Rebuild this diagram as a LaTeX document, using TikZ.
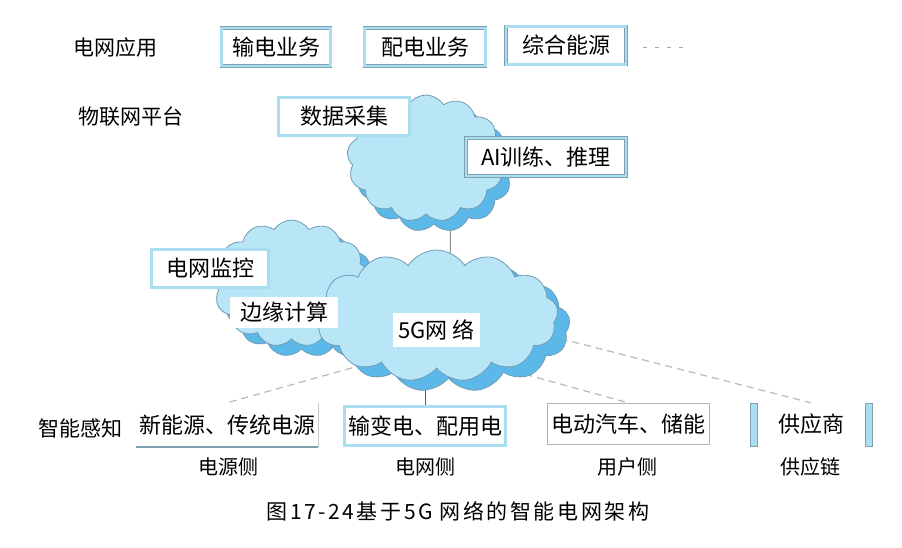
\documentclass[tikz,border=0pt]{standalone}
\usepackage{fontspec}
\setmainfont{Noto Sans CJK SC}
\usetikzlibrary{shapes.symbols,calc,backgrounds}
\definecolor{cloudFill}{HTML}{B8E6F6}
\definecolor{cloudShade}{HTML}{5CB8E9}
\definecolor{cloudEdge}{HTML}{6F9CB4}
\definecolor{boxBand}{HTML}{A9DEF1}
\definecolor{boxEdge}{HTML}{7E9FAE}
\tikzset{
  puff/.style={cloud, cloud puffs=13, cloud puff arc=115, inner sep=0pt, draw=cloudEdge, line width=0.8pt},
  puffTop/.style={puff, fill=cloudFill},
  puffShade/.style={puff, fill=cloudShade},
  layer/.style={font=\fontsize{21}{24}\selectfont},
  side/.style={font=\fontsize{20}{24}\selectfont},
  appbox/.style={draw=boxEdge, double=boxBand, double distance=2.4pt, fill=white, font=\fontsize{22}{24}\selectfont, minimum height=38, inner sep=0pt},
  tag/.style={fill=white, font=\fontsize{22}{24}\selectfont, inner sep=0pt},
  link/.style={draw=gray!70!black, line width=0.8pt},
  feed/.style={draw=gray!55, line width=1.2pt, dash pattern=on 7pt off 5pt},
}

\begin{document}
\begin{tikzpicture}[x=1pt,y=-1pt]
\useasboundingbox (0,0) rectangle (902,548);
% layer labels
\node[layer] (appLbl) at (115,48) {电网应用};
\node[layer] (iotLbl) at (131,117) {物联网平台};
\node[layer] (senseLbl) at (80,428) {智能感知};
% application boxes
\node[appbox, minimum width=109] (trans) at (276,47) {输电业务};
\node[appbox, minimum width=121] (distr) at (425,47) {配电业务};
\node[appbox, minimum width=120] (mix) at (566,45.5) {综合能源};
\coordinate (more) at (643,47);
\draw[gray!70, line width=0.8pt, dash pattern=on 4pt off 8pt] (more) -- ++(42,0);
% clouds
\node[puffShade, minimum width=157, minimum height=127] (edgeShade) at (301.5,293.5) {};
\node[puffTop, minimum width=157, minimum height=127] (edgeCloud) at (291.5,283.5) {};
\node[puffShade, minimum width=243, minimum height=132] (netShade) at (448.5,326) {};
\node[puffTop, minimum width=243, minimum height=132] (netCloud) at (436.5,316) {};
\node[puffShade, minimum width=158, minimum height=127] (aiShade) at (434,168.5) {};
\node[puffTop, minimum width=158, minimum height=127] (aiCloud) at (426,158.5) {};
% boxes on the clouds
\node[appbox, minimum width=131] (collect) at (344,116.5) {数据采集};
\node[appbox, minimum width=160] (train) at (546,157) {AI训练、推理};
\node[appbox, minimum width=117] (monitor) at (210,268.5) {电网监控};
\node[tag, minimum width=108, minimum height=31] (edgeTag) at (284,312.5) {边缘计算};
\node[tag, minimum width=87, minimum height=34] (netTag) at (436.5,330) {5G网 络};
% bottom row
\node[font=\fontsize{22}{24}\selectfont, minimum width=182, minimum height=44, inner sep=0pt] (srcBox) at (227,425) {新能源、传统电源};
\draw[boxEdge, line width=2.5pt] (srcBox.south west) -- (srcBox.south east);
\draw[gray!45, line width=1pt] (srcBox.south east) -- (srcBox.north east);
\node[appbox, minimum width=161, minimum height=39] (gridBox) at (425,426) {输变电、配用电};
\node[draw=gray!60, line width=1.2pt, fill=white, font=\fontsize{22}{24}\selectfont, minimum width=162, minimum height=41, inner sep=0pt] (userBox) at (628.5,424) {电动汽车、储能};
\node[font=\fontsize{22}{24}\selectfont, minimum width=122, minimum height=43, inner sep=0pt] (supBox) at (811,424.5) {供应商};
\draw[boxEdge, fill=boxBand, line width=0.6pt] (supBox.north west) rectangle ++(7,43);
\draw[boxEdge, fill=boxBand, line width=0.6pt] (supBox.north east) rectangle ++(-7,43);
\node[side] (srcSide) at (228,467) {电源侧};
\node[side] (gridSide) at (425,467) {电网侧};
\node[side] (userSide) at (627,467) {用户侧};
\node[side] (supSide) at (810,467) {供应链};
\node[font=\fontsize{21}{24}\selectfont\addfontfeatures{LetterSpace=12}] (caption) at (458,511) {图17-24基于5G 网络的智能电网架构};
% connectors
\begin{pgfonlayer}{background}
\draw[link] ($(aiCloud.center)+(24,0)$) -- ($(netCloud.center)+(14,0)$);
\draw[link] (netCloud.center -| gridBox.north) -- (gridBox.north);
\draw[feed] ($(netCloud.center)+(8,26)$) -- (srcBox.north);
\draw[feed] ($(netCloud.center)+(8,36)$) -- (userBox.north);
\draw[feed] ($(netCloud.center)+(8,-7)$) -- (supBox.north);
\end{pgfonlayer}
\end{tikzpicture}
\end{document}
